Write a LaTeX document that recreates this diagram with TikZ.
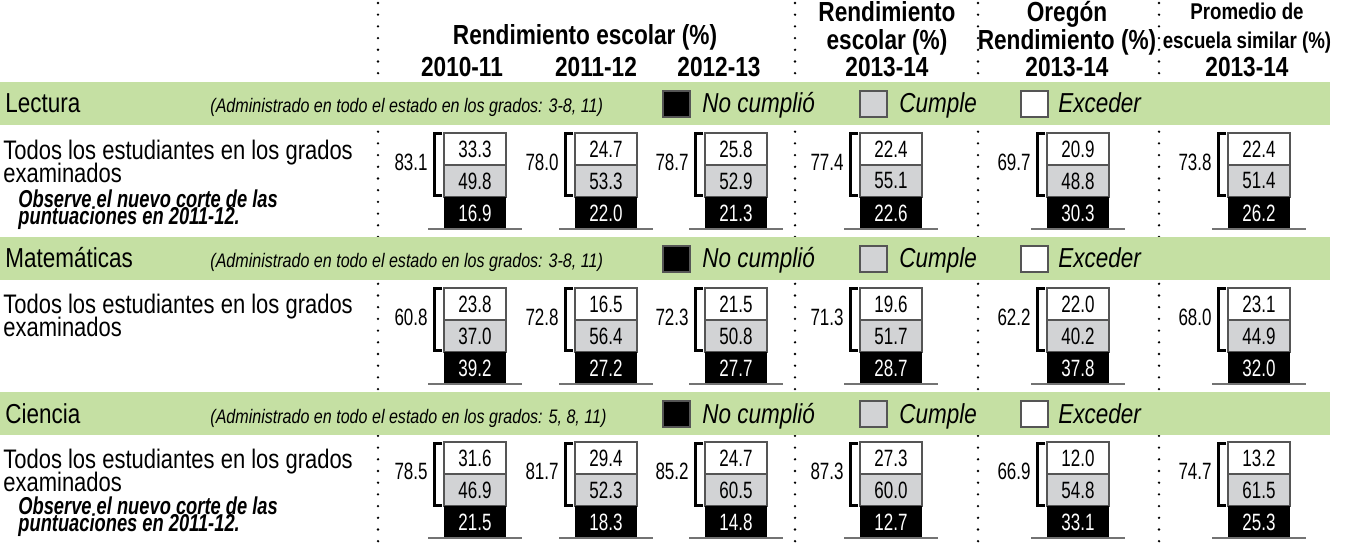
\documentclass[tikz,border=0pt]{standalone}
\usepackage{fontspec}
\setmainfont{Liberation Sans}[FakeStretch=0.82]
\newfontfamily\narrowfont{Liberation Sans}[FakeStretch=0.72]
\newfontfamily\notefont{Liberation Sans}[FakeStretch=0.75]
\definecolor{bandgreen}{RGB}{197,224,163}
\definecolor{meetgray}{RGB}{210,211,213}
\definecolor{boxedge}{RGB}{85,85,85}
\definecolor{floorgray}{RGB}{115,115,115}
\begin{document}
\begin{tikzpicture}[x=0.5pt, y=-0.5pt,
    colsep/.style={line width=1.3pt, dash pattern=on 0pt off 5.85pt, line cap=round},
    head/.style={font=\bfseries\fontsize{13.8}{14}\selectfont, anchor=base, inner sep=0pt},
    smallhead/.style={font=\bfseries\fontsize{11.4}{12}\selectfont, anchor=base, inner sep=0pt},
    subj/.style={font=\fontsize{13.7}{14}\selectfont, anchor=base west, inner sep=0pt},
    remark/.style={font=\itshape\fontsize{9.8}{10}\selectfont, anchor=base west, inner sep=0pt},
    legtext/.style={font=\itshape\fontsize{13.7}{14}\selectfont, anchor=base west, inner sep=0pt},
    legbox/.style={draw=boxedge, line width=0.6pt},
    rowtext/.style={font=\fontsize{13.4}{14}\selectfont, anchor=base west, inner sep=0pt},
    cutnote/.style={font=\notefont\bfseries\itshape\fontsize{12.2}{12}\selectfont, anchor=base west, inner sep=0pt},
    num/.style={font=\narrowfont\fontsize{11.8}{12}\selectfont, inner sep=0pt},
    boxline/.style={draw=boxedge, line width=0.7pt},
    floor/.style={draw=floorgray, line width=1pt},
    bracketline/.style={line width=1.5pt}]
  \useasboundingbox (0,0) rectangle (1347,544);

  % dotted column separators
  \foreach \x in {378,795,978,1159} \draw[colsep] (\x,3) -- (\x,544);

  % column headings
  \node[head] (hgroup) at (585,45) {Rendimiento escolar (\%)};
  \foreach \x/\yr in {462/2010-11, 596/2011-12, 719/2012-13}
    \node[head] (h\yr) at (\x,77) {\yr};
  \node[head] (hsch1) at (887,22) {Rendimiento};
  \node[head] (hsch2) at (887,50) {escolar (\%)};
  \node[head] (hsch3) at (887,77) {2013-14};
  \node[head] (hor1) at (1067,22) {Oregón};
  \node[head] (hor2) at (1067,50) {Rendimiento (\%)};
  \node[head] (hor3) at (1067,77) {2013-14};
  \node[smallhead] (hsim1) at (1247,20) {Promedio de};
  \node[smallhead] (hsim2) at (1247,49) {escuela similar (\%)};
  \node[head] (hsim3) at (1247,77) {2013-14};

  % subject bands with legend
  \foreach \y/\subj/\grades in {82/Lectura/{3-8, 11}, 237/Matemáticas/{3-8, 11}, 392/Ciencia/{5, 8, 11}} {
    \fill[bandgreen] (0,\y) rectangle (1330,\y+43);
    \node[subj] (subj\y) at (5,\y+31) {\subj};
    \node[remark] (rem\y) at (210,\y+31) {(Administrado en todo el estado en los grados: \grades)};
    \filldraw[legbox, fill=black] (663,\y+9) rectangle ++(27,26);
    \node[legtext] (not\y) at (702,\y+31) {No cumplió};
    \filldraw[legbox, fill=meetgray] (860,\y+9) rectangle ++(27,26);
    \node[legtext] (meet\y) at (899,\y+31) {Cumple};
    \filldraw[legbox, fill=white] (1021,\y+9) rectangle ++(27,26);
    \node[legtext] (exc\y) at (1058,\y+31) {Exceder};
  }

  % row labels
  \foreach \y in {160,314,468} {
    \node[rowtext] (all\y) at (3,\y) {Todos los estudiantes en los grados};
    \node[rowtext] (exa\y) at (3,\y+23) {examinados};
  }
  \foreach \y in {208,514} {
    \node[cutnote] (cut\y) at (18,\y) {Observe el nuevo corte de las};
    \node[cutnote] (pun\y) at (18,\y+17) {puntuaciones en 2011-12.};
  }

  % stacked bars: top / centre / total / exceeds / meets / not met
  \foreach \top/\cx/\tot/\ex/\me/\no [count=\i] in {
      133/475/83.1/33.3/49.8/16.9, 133/606/78.0/24.7/53.3/22.0, 133/736/78.7/25.8/52.9/21.3,
      133/891/77.4/22.4/55.1/22.6, 133/1078/69.7/20.9/48.8/30.3, 133/1259/73.8/22.4/51.4/26.2,
      288/475/60.8/23.8/37.0/39.2, 288/606/72.8/16.5/56.4/27.2, 288/736/72.3/21.5/50.8/27.7,
      288/891/71.3/19.6/51.7/28.7, 288/1078/62.2/22.0/40.2/37.8, 288/1259/68.0/23.1/44.9/32.0,
      442/475/78.5/31.6/46.9/21.5, 442/606/81.7/29.4/52.3/18.3, 442/736/85.2/24.7/60.5/14.8,
      442/891/87.3/27.3/60.0/12.7, 442/1078/66.9/12.0/54.8/33.1, 442/1259/74.7/13.2/61.5/25.3} {
    \filldraw[boxline, fill=white] (\cx-31,\top) rectangle ++(62,32);
    \filldraw[boxline, fill=meetgray] (\cx-31,\top+32) rectangle ++(62,32);
    \fill (\cx-31,\top+64) rectangle ++(62,32);
    \draw[floor] (\cx-47,\top+96) -- (\cx+47,\top+96);
    \draw[bracketline] (\cx-33,\top+1) -- (\cx-41,\top+1) -- (\cx-41,\top+63) -- (\cx-33,\top+63);
    \node[num] (ex\i) at (\cx,\top+16) {\ex};
    \node[num] (me\i) at (\cx,\top+48) {\me};
    \node[num, text=white] (no\i) at (\cx,\top+80) {\no};
    \node[num, anchor=east] (tot\i) at (\cx-47,\top+29) {\tot};
  }
\end{tikzpicture}
\end{document}
